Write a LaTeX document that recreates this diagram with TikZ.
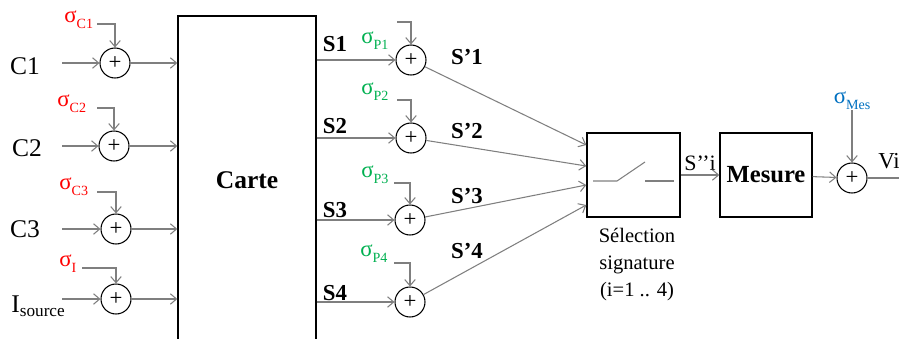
\documentclass[tikz,border=0pt]{standalone}
\usepackage{fontspec}
\setmainfont{Liberation Serif}
\usepackage{tikz}
\usetikzlibrary{positioning,arrows.meta}
\definecolor{Red}{HTML}{FF0000}
\definecolor{Green}{HTML}{00B050}
\definecolor{Blue}{HTML}{0070C0}
\definecolor{Wire}{HTML}{7F7F7F}
\newcommand{\sig}[1]{σ\raisebox{-3.5pt}{\fontsize{8}{8}\selectfont #1}}

\begin{document}
\begin{tikzpicture}[x=0.02cm,y=-0.02cm,
    box/.style={draw=black,line width=0.8pt,inner sep=0pt},
    sum/.style={draw=black,circle,line width=0.6pt,minimum size=0.6cm,
                inner sep=0pt,font=\fontsize{13}{13}\selectfont},
    arr/.style={-{Straight Barb[length=3.5pt,width=6pt]},line width=0.6pt,color=Wire},
    wire/.style={line width=0.6pt,color=Wire},
    inlbl/.style={font=\fontsize{14.5}{15}\selectfont,inner sep=0pt},
    slbl/.style={font=\bfseries\fontsize{13}{14}\selectfont,inner sep=0pt},
    noise/.style={font=\fontsize{13}{13}\selectfont,inner sep=0pt,anchor=base west}
  ]
    \useasboundingbox (0,0) rectangle (899,338);

    % carte
    \node[box,minimum width=2.76cm,minimum height=6.58cm,
          font=\bfseries\fontsize{14.5}{15}\selectfont] (carte) at (247,180.5) {Carte};

    % entrees + bruit capteurs
    \node[sum] (c1) at (115,63)  {+};
    \node[sum] (c2) at (114,146) {+};
    \node[sum] (c3) at (116,229) {+};
    \node[sum] (ci) at (116,299) {+};
    \node[inlbl] (lc1) at (25,66)  {C1};
    \node[inlbl] (lc2) at (27,148) {C2};
    \node[inlbl] (lc3) at (25,229) {C3};
    \node[inlbl,anchor=base west] (lci) at (11,312)
         {I\raisebox{-2.3pt}{\fontsize{9.8}{10}\selectfont source}};
    \coordinate (e1) at (62,63);
    \coordinate (e2) at (62,146);
    \coordinate (e3) at (62,229);
    \coordinate (ei) at (62,299);
    \draw[arr] (e1) -- (c1);
    \draw[arr] (e2) -- (c2);
    \draw[arr] (e3) -- (c3);
    \draw[arr] (ei) -- (ci);
    \draw[arr] (c1) -- (c1 -| carte.west);
    \draw[arr] (c2) -- (c2 -| carte.west);
    \draw[arr] (c3) -- (c3 -| carte.west);
    \draw[arr] (ci) -- (ci -| carte.west);

    \node[noise,text=Red] (sc1) at (64,22)  {\sig{C1}};
    \node[noise,text=Red] (sc2) at (57,106) {\sig{C2}};
    \node[noise,text=Red] (sc3) at (59,189) {\sig{C3}};
    \node[noise,text=Red] (sci) at (59,266) {\sig{I}};
    \coordinate (nc1) at (97,24);
    \coordinate (nc2) at (97,108);
    \coordinate (nc3) at (97,192);
    \coordinate (nci) at (82,268);
    \draw[arr] (nc1) -| (c1.north);
    \draw[arr] (nc2) -| (c2.north);
    \draw[arr] (nc3) -| (c3.north);
    \draw[arr] (nci) -| (ci.north);

    % sorties + bruit propagation
    \node[sum] (p1) at (411,60)  {+};
    \node[sum] (p2) at (411,138) {+};
    \node[sum] (p3) at (410,220) {+};
    \node[sum] (p4) at (410,302) {+};
    \draw[arr] (p1 -| carte.east) -- (p1);
    \draw[arr] (p2 -| carte.east) -- (p2);
    \draw[arr] (p3 -| carte.east) -- (p3);
    \draw[arr] (p4 -| carte.east) -- (p4);
    \node[slbl] (s1) at (335,44)  {S1};
    \node[slbl] (s2) at (335,126) {S2};
    \node[slbl] (s3) at (335,210) {S3};
    \node[slbl] (s4) at (335,293) {S4};

    \node[noise,text=Green] (sp1) at (361,43)  {\sig{P1}};
    \node[noise,text=Green] (sp2) at (361,94)  {\sig{P2}};
    \node[noise,text=Green] (sp3) at (361,177) {\sig{P3}};
    \node[noise,text=Green] (sp4) at (360,256) {\sig{P4}};
    \coordinate (np1) at (397,22);
    \coordinate (np2) at (397,100);
    \coordinate (np3) at (394,183);
    \coordinate (np4) at (394,263);
    \draw[arr] (np1) -| (p1.north);
    \draw[arr] (np2) -| (p2.north);
    \draw[arr] (np3) -| (p3.north);
    \draw[arr] (np4) -| (p4.north);

    \node[slbl] (t1) at (467,57)  {S’1};
    \node[slbl] (t2) at (467,131) {S’2};
    \node[slbl] (t3) at (467,196) {S’3};
    \node[slbl] (t4) at (467,251) {S’4};

    % selection + mesure
    \node[box,minimum width=1.86cm,minimum height=1.68cm] (sel) at (633.5,175) {};
    \draw[wire] (593,181) -- (617,181) -- (645,162);
    \draw[wire] (645,181) -- (674,181);
    \node[font=\fontsize{11.7}{15.4}\selectfont,align=center,inner sep=0pt,
          below=0.2cm of sel,xshift=0.07cm] (lsel) {Sélection\\signature\\(i=1 .. 4)};
    \draw[arr] (p1) -- ([yshift=0.6cm]sel.west);
    \draw[arr] (p2) -- ([yshift=0.18cm]sel.west);
    \draw[arr] (p3) -- ([yshift=-0.2cm]sel.west);
    \draw[arr] (p4) -- ([yshift=-0.6cm]sel.west);

    \node[box,minimum width=1.84cm,minimum height=1.68cm,
          font=\bfseries\fontsize{14}{15}\selectfont] (mes) at (766,175) {Mesure};
    \node[font=\fontsize{12.5}{13}\selectfont,inner sep=0pt] (ssi) at (700,163) {S’’i};
    \draw[arr] (sel) -- (mes);

    \node[sum] (m) at (852,178) {+};
    \node[font=\fontsize{13}{13}\selectfont,inner sep=0pt,text=Blue] (smes) at (852,101) {\sig{Mes}};
    \draw[arr] (mes) -- (m);
    \draw[arr] (smes) -- (m);
    \coordinate (vo) at (899,178);
    \draw[wire] (m) -- (vo);
    \node[font=\fontsize{13}{14}\selectfont,inner sep=0pt,anchor=west] (vi) at (878,161) {Vi};
  \end{tikzpicture}
\end{document}
